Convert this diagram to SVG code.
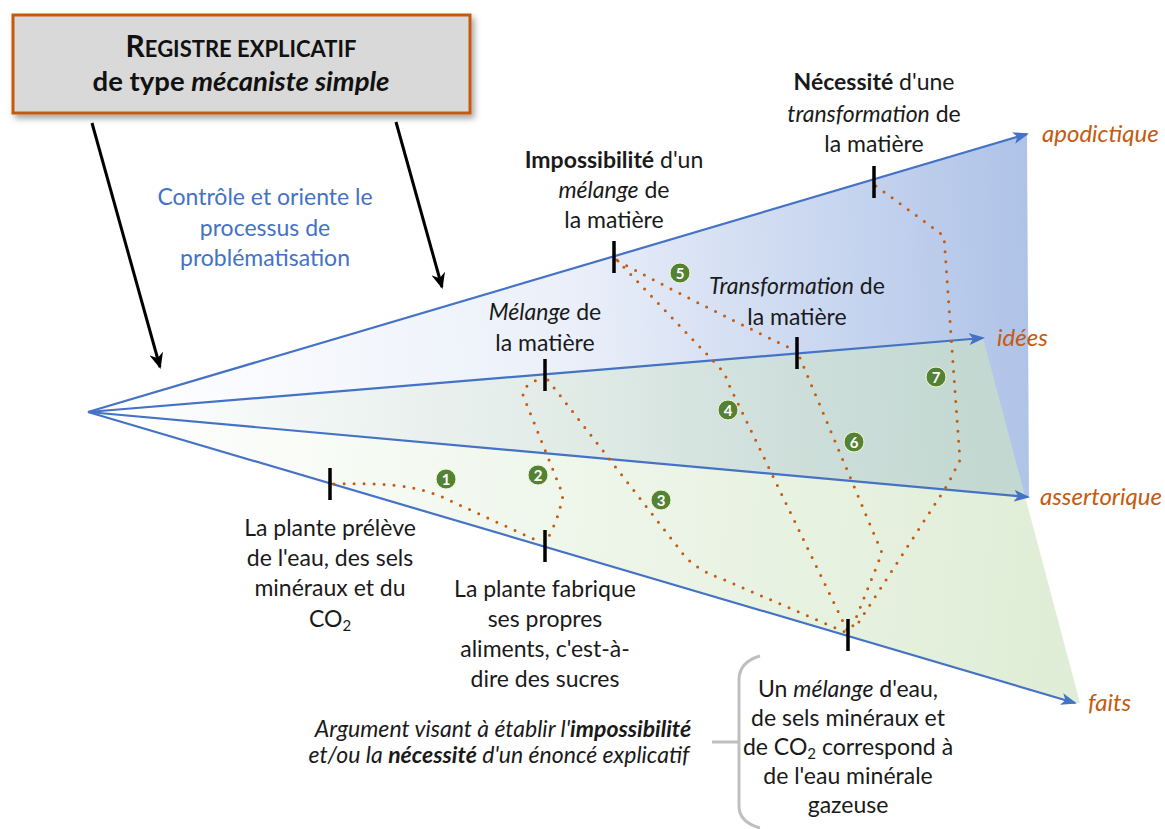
<svg xmlns="http://www.w3.org/2000/svg" width="1165" height="829" viewBox="0 0 1165 829">
<style>
text{font-family:Lato,"Liberation Sans","DejaVu Sans",sans-serif;}
.lbl{font-size:23px;fill:#1a1a1a;text-anchor:middle;}
.axis{font-size:24px;fill:#c55a11;font-style:italic;}
.blue{font-size:23px;fill:#4472c4;text-anchor:middle;}
.i{font-style:italic;}
.b{font-weight:bold;}
.ax{stroke:#4472c4;stroke-width:2.2;fill:none;marker-end:url(#ba);}
.tick{stroke:#000;stroke-width:3.5;}
.dot{stroke:#c55a11;stroke-width:3;fill:none;stroke-linecap:round;stroke-dasharray:0 10;}
.num circle{fill:#548235;stroke:#f2f5d0;stroke-width:1;}
.num text{font-size:15px;font-weight:bold;fill:#fff;text-anchor:middle;}
.blk{stroke:#000;stroke-width:3;fill:none;marker-end:url(#ka);}
</style>
<defs>
<linearGradient id="gb" gradientUnits="userSpaceOnUse" x1="120" y1="330" x2="1030" y2="300">
<stop offset="0" stop-color="#ffffff"/>
<stop offset="0.5" stop-color="#eaeff9"/>
<stop offset="1" stop-color="#afc3e8"/>
</linearGradient>
<linearGradient id="gg" gradientUnits="userSpaceOnUse" x1="120" y1="430" x2="1070" y2="520">
<stop offset="0" stop-color="#cee4c1" stop-opacity="0"/>
<stop offset="0.5" stop-color="#cee4c1" stop-opacity="0.35"/>
<stop offset="1" stop-color="#cee4c1" stop-opacity="0.65"/>
</linearGradient>
<marker id="ba" viewBox="0 0 16 12" refX="14" refY="6" markerWidth="16" markerHeight="12" markerUnits="userSpaceOnUse" orient="auto">
<path d="M0,0 L16,6 L0,12 L4,6 z" fill="#4472c4"/>
</marker>
<marker id="ka" viewBox="0 0 16 14" refX="14" refY="7" markerWidth="16" markerHeight="14" markerUnits="userSpaceOnUse" orient="auto">
<path d="M0,0 L16,7 L0,14 L5,7 z" fill="#000"/>
</marker>
<filter id="sh" x="-10%" y="-20%" width="125%" height="150%">
<feDropShadow dx="3" dy="4" stdDeviation="3" flood-color="#000" flood-opacity="0.35"/>
</filter>
</defs>

<!-- background regions -->
<g id="regions">
<polygon points="88,412 1027,134 1029,497" fill="url(#gb)"/>
<polygon points="88,412 983,338 1080,703 1075,703" fill="url(#gg)"/>
</g>

<!-- connectors -->
<g id="connectors">
<line class="ax" x1="88" y1="412" x2="1027" y2="134"/>
<line class="ax" x1="88" y1="412" x2="983" y2="338"/>
<line class="ax" x1="88" y1="412" x2="1028" y2="497"/>
<line class="ax" x1="88" y1="412" x2="1075" y2="703"/>
<line class="blk" x1="92" y1="123" x2="160" y2="367"/>
<line class="blk" x1="396" y1="122" x2="442" y2="287"/>
<path class="dot" d="M334,484 C380,483 410,484 440,496 L540,542"/>
<path class="dot" d="M545,378 Q524,382 523,395 L563,495 Q558,522 545,543"/>
<path class="dot" d="M548,380 L680,550 Q692,568 720,578 L845,632"/>
<path class="dot" d="M617,260 L718,366 Q726,374 729,385 L847,630"/>
<path class="dot" d="M618,261 Q690,300 796,351"/>
<path class="dot" d="M800,358 L882,553 L852,628"/>
<path class="dot" d="M876,186 L944,236 Q952,350 960,460 L948,484 L855,628"/>
<line class="tick" x1="330" y1="468" x2="330" y2="500"/>
<line class="tick" x1="545" y1="530" x2="545" y2="562"/>
<line class="tick" x1="848" y1="619" x2="848" y2="651"/>
<line class="tick" x1="545" y1="359" x2="545" y2="391"/>
<line class="tick" x1="797" y1="337" x2="797" y2="369"/>
<line class="tick" x1="614" y1="241" x2="614" y2="273"/>
<line class="tick" x1="874" y1="166" x2="874" y2="198"/>
<path d="M760,656 Q739,662 739,680 L739,742 M712,742 L739,742 M739,742 L739,806 Q739,822 760,828" stroke="#bfbfbf" stroke-width="3" fill="none"/>
</g>

<!-- header box -->
<g id="registre">
<rect x="13" y="15" width="457" height="98" fill="#d9d9d9" stroke="#c55a11" stroke-width="3" filter="url(#sh)"/>
<text x="241" y="57" text-anchor="middle" font-weight="bold" fill="#111"><tspan font-size="30">R</tspan><tspan font-size="22">EGISTRE EXPLICATIF</tspan></text>
<text x="241" y="91" text-anchor="middle" font-weight="bold" font-size="27.5" fill="#111">de type <tspan class="i">mécaniste simple</tspan></text>
</g>

<g id="controle">
<text class="blue" x="265" y="205">Contrôle et oriente le</text>
<text class="blue" x="265" y="236">processus de</text>
<text class="blue" x="265" y="266">problématisation</text>
</g>

<g id="axes-labels">
<text class="axis" x="1042" y="142">apodictique</text>
<text class="axis" x="997" y="346">idées</text>
<text class="axis" x="1040" y="505">assertorique</text>
<text class="axis" x="1088" y="711">faits</text>
</g>

<g id="n-necessite">
<text class="lbl" x="874" y="90"><tspan class="b">Nécessité</tspan> d'une</text>
<text class="lbl" x="874" y="122"><tspan class="i">transformation</tspan> de</text>
<text class="lbl" x="874" y="152">la matière</text>
</g>
<g id="n-impossibilite">
<text class="lbl" x="614" y="168"><tspan class="b">Impossibilité</tspan> d'un</text>
<text class="lbl" x="614" y="198"><tspan class="i">mélange</tspan> de</text>
<text class="lbl" x="614" y="228">la matière</text>
</g>
<g id="n-melange">
<text class="lbl" x="545" y="320"><tspan class="i">Mélange</tspan> de</text>
<text class="lbl" x="545" y="351">la matière</text>
</g>
<g id="n-transformation">
<text class="lbl" x="797" y="294"><tspan class="i">Transformation</tspan> de</text>
<text class="lbl" x="797" y="325">la matière</text>
</g>
<g id="n-preleve">
<text class="lbl" x="330" y="536">La plante prélève</text>
<text class="lbl" x="330" y="566">de l'eau, des sels</text>
<text class="lbl" x="330" y="596">minéraux et du</text>
<text class="lbl" x="330" y="627">CO<tspan font-size="15" dy="4">2</tspan></text>
</g>
<g id="n-fabrique">
<text class="lbl" x="545" y="597">La plante fabrique</text>
<text class="lbl" x="545" y="627">ses propres</text>
<text class="lbl" x="545" y="657">aliments, c'est-à-</text>
<text class="lbl" x="545" y="687">dire des sucres</text>
</g>
<g id="n-eau">
<text class="lbl" x="848" y="697">Un <tspan class="i">mélange</tspan> d'eau,</text>
<text class="lbl" x="848" y="726">de sels minéraux et</text>
<text class="lbl" x="848" y="755">de CO<tspan font-size="15" dy="4">2</tspan><tspan dy="-4"> correspond à</tspan></text>
<text class="lbl" x="848" y="784">de l'eau minérale</text>
<text class="lbl" x="848" y="813">gazeuse</text>
</g>
<g id="argument">
<text class="lbl i" x="503" y="737" font-size="20">Argument visant à établir l'<tspan class="b">impossibilité</tspan></text>
<text class="lbl i" x="499" y="763" font-size="20">et/ou la <tspan class="b">nécessité</tspan> d'un énoncé explicatif</text>
</g>

<g id="numbers" class="num">
<g id="c1"><circle cx="446" cy="479" r="10"/><text x="446" y="484.5">1</text></g>
<g id="c2"><circle cx="538" cy="475" r="10"/><text x="538" y="480.5">2</text></g>
<g id="c3"><circle cx="661" cy="500" r="10"/><text x="661" y="505.5">3</text></g>
<g id="c4"><circle cx="728" cy="410" r="10"/><text x="728" y="415.5">4</text></g>
<g id="c5"><circle cx="680" cy="273" r="10"/><text x="680" y="278.5">5</text></g>
<g id="c6"><circle cx="854" cy="442" r="10"/><text x="854" y="447.5">6</text></g>
<g id="c7"><circle cx="936" cy="377" r="10"/><text x="936" y="382.5">7</text></g>
</g>
</svg>
